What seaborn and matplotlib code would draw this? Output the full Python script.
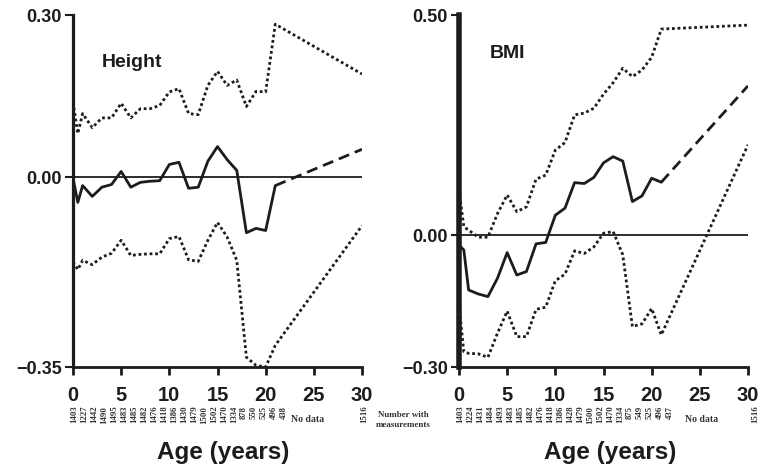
import numpy as np
import pandas as pd
import matplotlib
matplotlib.use("Agg")
import matplotlib.pyplot as plt
import seaborn as sns

# ---------------- data ----------------
ages = [0, 0.5, 1, 2, 3, 4, 5, 6, 7, 8, 9, 10, 11, 12, 13, 14, 15, 16, 17, 18, 19, 20, 21]
age_end = 30

height_mean = [-0.001, -0.046, -0.015, -0.035, -0.018, -0.013, 0.011, -0.018, -0.009, -0.007, -0.006,
               0.024, 0.028, -0.020, -0.018, 0.030, 0.057, 0.033, 0.013, -0.102, -0.094, -0.098, -0.015]
height_mean_end = 0.052
height_upper = [0.139, 0.081, 0.118, 0.092, 0.110, 0.110, 0.137, 0.110, 0.127, 0.127, 0.133,
                0.158, 0.164, 0.118, 0.116, 0.170, 0.196, 0.170, 0.180, 0.131, 0.159, 0.158, 0.283]
height_upper_end = 0.191
height_lower = [-0.156, -0.170, -0.153, -0.161, -0.147, -0.140, -0.116, -0.144, -0.142, -0.141, -0.141,
                -0.113, -0.109, -0.152, -0.155, -0.116, -0.083, -0.110, -0.153, -0.332, -0.347, -0.350, -0.310]
height_lower_end = -0.089

bmi_mean = [-0.023, -0.034, -0.125, -0.134, -0.140, -0.098, -0.040, -0.091, -0.083, -0.020, -0.017,
            0.045, 0.061, 0.119, 0.117, 0.131, 0.164, 0.178, 0.168, 0.076, 0.089, 0.129, 0.120]
bmi_mean_end = 0.339
bmi_upper = [0.102, 0.019, 0.011, -0.005, -0.005, 0.049, 0.091, 0.053, 0.064, 0.127, 0.136,
             0.193, 0.210, 0.273, 0.277, 0.288, 0.320, 0.346, 0.379, 0.360, 0.375, 0.404, 0.468]
bmi_upper_end = 0.477
bmi_lower = [-0.159, -0.265, -0.269, -0.270, -0.278, -0.223, -0.173, -0.231, -0.231, -0.169, -0.164,
             -0.104, -0.089, -0.036, -0.042, -0.027, 0.004, 0.008, -0.045, -0.208, -0.202, -0.167, -0.227]
bmi_lower_end = 0.205

height_counts = ["1403", "1227", "1442", "1490", "1495", "1483", "1485", "1482", "1476", "1418", "1386",
                 "1430", "1479", "1500", "1502", "1470", "1334", "878", "550", "525", "496", "438"]
bmi_counts = ["1403", "1224", "1431", "1484", "1493", "1483", "1485", "1482", "1476", "1418", "1386",
              "1428", "1479", "1500", "1502", "1470", "1334", "875", "549", "525", "496", "437"]
count_end = "1516"

height_ticks_y = [-0.35, 0.00, 0.30]
height_ticklabels_y = ["\u22120.35", "0.00", "0.30"]
bmi_ticks_y = [-0.30, 0.00, 0.50]
bmi_ticklabels_y = ["\u22120.30", "0.00", "0.50"]
x_ticks = [0, 5, 10, 15, 20, 25, 30]

# ---------------- style ----------------
sns.set_style("ticks")
plt.rcParams["font.family"] = ["Liberation Sans", "DejaVu Sans"]
INK = "#1c1c1c"

fig = plt.figure(figsize=(7.63, 4.66), dpi=100)
W, H = 763, 466


def add_axes(x0, x1, y0, y1):
    return fig.add_axes([x0 / W, 1 - y1 / H, (x1 - x0) / W, (y1 - y0) / H])


def draw_panel(ax, mean, mean_end, upper, upper_end, lower, lower_end, ylim, yticks, yticklabels,
               title, title_pos, counts, nodata_x, end_x, spine_w, xlabel_x):
    full_ages = ages + [age_end]
    dot = (0, (1.0, 1.0))
    for vals, vend in ((upper, upper_end), (lower, lower_end)):
        df = pd.DataFrame({"age": full_ages, "v": vals + [vend]})
        sns.lineplot(data=df, x="age", y="v", ax=ax, color=INK, lw=2.0, estimator=None,
                     linestyle=dot, dashes=False)
    df_m = pd.DataFrame({"age": ages, "v": mean})
    sns.lineplot(data=df_m, x="age", y="v", ax=ax, color=INK, lw=2.0, estimator=None)
    df_e = pd.DataFrame({"age": [ages[-1], age_end], "v": [mean[-1], mean_end]})
    sns.lineplot(data=df_e, x="age", y="v", ax=ax, color=INK, lw=2.0, estimator=None,
                 linestyle=(0, (4.0, 2.2)))
    ax.axhline(0, color=INK, lw=1.3, zorder=1)

    ax.set_xlim(0, 30)
    ax.set_ylim(*ylim)
    ax.set_xticks(x_ticks)
    ax.set_xticklabels([str(t) for t in x_ticks], fontsize=14.5, fontweight="bold")
    ax.set_yticks(yticks)
    ax.set_yticklabels(yticklabels, fontsize=13, fontweight="bold")
    ax.set_xlabel("")
    ax.set_ylabel("")
    for s in ("top", "right"):
        ax.spines[s].set_visible(False)
    ax.spines["left"].set_linewidth(spine_w)
    ax.spines["bottom"].set_linewidth(2.0)
    ax.spines["left"].set_color(INK)
    ax.spines["bottom"].set_color(INK)
    ax.tick_params(axis="x", length=6, width=2.0, color=INK, pad=8, labelcolor=INK)
    ax.tick_params(axis="y", length=6, width=1.5, color=INK, pad=2, labelcolor=INK)
    ax.set_facecolor("white")

    ax.text(title_pos[0], title_pos[1], title, transform=ax.transAxes, fontsize=14,
            fontweight="bold", color=INK, ha="left", va="center")

    trans = matplotlib.transforms.blended_transform_factory(ax.transData, ax.transAxes)
    cx = np.linspace(0.1, 21.9, len(counts))
    for x, c in zip(cx, counts):
        ax.text(x, -0.11, c, transform=trans, rotation=90, fontsize=6.3, ha="center", va="top",
                family=["Liberation Serif"], fontweight="bold", color="#333333", clip_on=False)
    ax.text(end_x, -0.11, count_end, transform=trans, rotation=90, fontsize=6.3, ha="center",
            va="top", family=["Liberation Serif"], fontweight="bold", color="#333333", clip_on=False)
    ax.text(nodata_x, -0.148, "No data", transform=trans, fontsize=7, ha="center", va="center",
            family=["Liberation Serif"], fontweight="bold", color="#333333", clip_on=False)
    ax.text(xlabel_x, -0.2415, "Age (years)", transform=ax.transAxes, fontsize=17.5,
            fontweight="bold", color=INK, ha="center", va="center")


ax1 = add_axes(73, 362, 15, 367)
draw_panel(ax1, height_mean, height_mean_end, height_upper, height_upper_end, height_lower,
           height_lower_end, (-0.35, 0.30), height_ticks_y, height_ticklabels_y, "Height",
           (0.10, 0.866), height_counts, 24.3, 30.2, 2.3, 0.519)

ax2 = add_axes(459, 748, 15, 367)
draw_panel(ax2, bmi_mean, bmi_mean_end, bmi_upper, bmi_upper_end, bmi_lower, bmi_lower_end,
           (-0.30, 0.50), bmi_ticks_y, bmi_ticklabels_y, "BMI", (0.107, 0.892), bmi_counts,
           25.2, 30.7, 4.0, 0.522)

fig.text(403 / W, 1 - 420 / H, "Number with\nmeasurements", fontsize=6.5, ha="center", va="center",
         family=["Liberation Serif"], fontweight="bold", color="#333333", multialignment="center",
         linespacing=1.3)

fig.savefig("out.png", dpi=100, facecolor="white")
